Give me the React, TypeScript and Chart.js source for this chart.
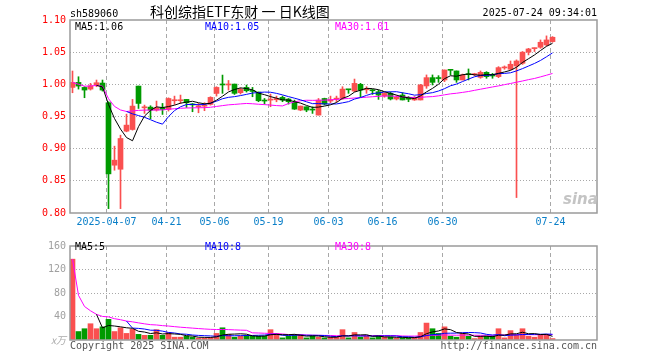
import React, { useEffect, useRef } from 'react';
import { Chart, registerables } from 'chart.js';

Chart.register(...registerables);

// ---- data ----
const opens = [
  0.9952, 1.003, 0.9952, 0.9926, 0.9994, 1.002, 0.9714, 0.8743, 0.868, 0.9272,
  0.9298, 0.9973, 0.9635, 0.9646, 0.96, 0.9636, 0.961, 0.9745, 0.9745, 0.9766,
  0.9688, 0.9651, 0.966, 0.9688, 0.9859, 0.9995, 0.999, 1.0004, 0.987, 0.9952,
  0.9895, 0.988, 0.9745, 0.9755, 0.976, 0.9797, 0.9771, 0.972, 0.96, 0.9651,
  0.9605, 0.9522, 0.978, 0.974, 0.977, 0.978, 0.9921, 0.9895, 1.0, 0.9915,
  0.9915, 0.9885, 0.9817, 0.986, 0.9772, 0.9834, 0.9772, 0.9757, 0.9757, 0.9975,
  1.0104, 1.0095, 1.0068, 1.0223, 1.0208, 1.0068, 1.0156, 1.015, 1.0109, 1.0187,
  1.0135, 1.012, 1.0255, 1.0234, 1.0285, 1.0327, 1.05, 1.0555, 1.0576, 1.0612,
  1.0664,
];
const highs = [
  1.0207, 1.0118, 0.9963, 1.0015, 1.0067, 1.0067, 0.9729, 0.9039, 0.921, 0.9537,
  0.9766, 0.9973, 0.9677, 0.9667, 0.974, 0.9703, 0.979, 0.9817, 0.9833, 0.9766,
  0.9703, 0.9703, 0.9714, 0.9807, 0.9963, 1.0144, 1.006, 1.0004, 0.9942, 0.9989,
  0.9952, 0.988, 0.978, 0.9849, 0.9817, 0.9817, 0.978, 0.9755, 0.9662, 0.9651,
  0.9651, 0.978, 0.9785, 0.9817, 0.9817, 0.9963, 0.9921, 1.0082, 1.0015, 0.9963,
  0.9921, 0.991, 0.987, 0.988, 0.9824, 0.987, 0.981, 0.981, 1.0, 1.0146,
  1.0146, 1.0135, 1.0223, 1.0228, 1.0208, 1.016, 1.0239, 1.0172, 1.0208, 1.0197,
  1.017, 1.0275, 1.0286, 1.0363, 1.038, 1.051, 1.056, 1.0565, 1.069, 1.0753,
  1.0742,
];
const lows = [
  0.9869, 0.9926, 0.9792, 0.9911, 0.9963, 0.9895, 0.8068, 0.8665, 0.8068, 0.9262,
  0.9288, 0.9625, 0.9548, 0.9465, 0.9584, 0.9532, 0.9584, 0.9688, 0.9703, 0.964,
  0.9574, 0.9558, 0.959, 0.9677, 0.9817, 0.986, 0.991, 0.9843, 0.9849, 0.988,
  0.9807, 0.973, 0.9693, 0.9652, 0.9729, 0.973, 0.9693, 0.961, 0.959, 0.9574,
  0.9548, 0.9522, 0.968, 0.9714, 0.9729, 0.9766, 0.986, 0.9885, 0.9807, 0.986,
  0.9843, 0.9766, 0.98, 0.9757, 0.9757, 0.9757, 0.973, 0.975, 0.9757, 0.9938,
  0.999, 1.0031, 1.0042, 1.0146, 1.0031, 1.0068, 1.0068, 1.0135, 1.0094, 1.0094,
  1.0094, 1.0104, 1.0234, 1.0223, 0.824, 1.031, 1.0457, 1.051, 1.056, 1.0597,
  1.0654,
];
const closes = [
  1.003, 0.9973, 0.9911, 0.9978, 1.0025, 0.9911, 0.8608, 0.8821, 0.9158, 0.9366,
  0.9662, 0.9703, 0.9646, 0.96, 0.9636, 0.961, 0.978, 0.9755, 0.9755, 0.9714,
  0.968, 0.9667, 0.967, 0.9797, 0.9952, 0.999, 1.0, 0.986, 0.9921, 0.99,
  0.989, 0.9745, 0.974, 0.977, 0.978, 0.9755, 0.973, 0.9615, 0.9662, 0.96,
  0.96, 0.9755, 0.9693, 0.976, 0.978, 0.9926, 0.9915, 1.0015, 0.991, 0.9925,
  0.99, 0.9833, 0.9859, 0.9772, 0.98, 0.9757, 0.9767, 0.9793, 0.999, 1.0104,
  1.0031, 1.009, 1.0223, 1.0218, 1.0068, 1.0146, 1.015, 1.0156, 1.0187, 1.012,
  1.013, 1.026, 1.0265, 1.0312, 1.0363, 1.05, 1.055, 1.056, 1.0654, 1.069,
  1.0732,
];
const volumes = [
  137.6, 14.4, 19.2, 27.7, 19.2, 22.4, 35.2, 14.4, 20.8, 11.2,
  18.1, 9.6, 8, 8, 17.6, 8, 12.8, 4.8, 4.8, 6.4,
  4.8, 3.2, 3.2, 4, 11.2, 20.8, 9.6, 4.8, 6.4, 8,
  6.4, 6.4, 6.4, 17.6, 11.2, 3.6, 6.4, 9.6, 9.6, 3.6,
  6.4, 4.8, 3.6, 4.8, 4.8, 17.6, 3.6, 12.8, 4.8, 6.4,
  3.6, 6.4, 4.8, 4.8, 3.2, 3.6, 3.6, 4.8, 12.8, 28.8,
  19.2, 11.2, 22.4, 6.4, 4.8, 11.2, 6.4, 2.4, 6.4, 6.4,
  6.4, 19.2, 3.6, 16, 8, 19.2, 6.4, 4.8, 8, 9.6,
  2.4,
];
const dateTickIndex = [6, 16, 24, 33, 43, 52, 62, 80];
const dateTickLabels = ['2025-04-07', '04-21', '05-06', '05-19', '06-03', '06-16', '06-30', '07-24'];
const priceTicks = [0.8, 0.85, 0.9, 0.95, 1.0, 1.05, 1.1];
const volumeTicks = [0, 40, 80, 120, 160];
const priceMaLabels = ['MA5:1.06', 'MA10:1.05', 'MA30:1.01'];
const volumeMaLabels = ['MA5:5', 'MA10:8', 'MA30:8'];
const headerCode = 'sh589060';
const headerTitle = '科创综指ETF东财 一 日K线图';
const headerTime = '2025-07-24 09:34:01';

// ---- styles ----
const UP = '#fa5050';
const DOWN = '#009a00';
const MA_COLORS = ['#000000', '#0000ff', '#ff00ff'];
const GRID = '#a8a8a8';
const FRAME = '#9a9a9a';
const MONO = '"DejaVu Sans Mono", monospace';
const X_MIN = -2.5 / 6;
const X_MAX = X_MIN + 527 / 6;

function movingAvg(src: number[], n: number, cumulative: boolean): (number | null)[] {
  return src.map((_, i) => {
    if (i < n - 1) {
      if (!cumulative) return null;
      const s = src.slice(0, i + 1);
      return s.reduce((a, b) => a + b, 0) / s.length;
    }
    const s = src.slice(i - n + 1, i + 1);
    return s.reduce((a, b) => a + b, 0) / n;
  });
}

const idx = closes.map((_, i) => i);
const candleColors = idx.map((i) => (closes[i] >= opens[i] ? UP : DOWN));

const framePlugin = {
  id: 'frame',
  afterDatasetsDraw(chart: any) {
    const { ctx, chartArea } = chart;
    ctx.save();
    ctx.strokeStyle = FRAME;
    ctx.lineWidth = 1.5;
    ctx.strokeRect(chartArea.left, chartArea.top, chartArea.right - chartArea.left, chartArea.bottom - chartArea.top);
    ctx.restore();
  },
};

function xScale(showLabels: boolean, height: number) {
  return {
    type: 'linear',
    min: X_MIN,
    max: X_MAX,
    offset: false,
    afterBuildTicks: (s: any) => {
      s.ticks = dateTickIndex.map((v) => ({ value: v - 1 / 3 }));
    },
    afterFit: (s: any) => {
      s.height = height;
    },
    grid: { color: GRID, lineWidth: 1, drawTicks: false, offset: false },
    border: { display: false, dash: [4, 3] },
    ticks: {
      display: showLabels,
      autoSkip: false,
      maxRotation: 0,
      padding: 3,
      color: '#0a7fc8',
      font: { family: MONO, size: 10 },
      callback: (_v: any, i: number) => dateTickLabels[i],
    },
  };
}

function PriceChart() {
  const ref = useRef<HTMLCanvasElement | null>(null);
  useEffect(() => {
    const ma5 = movingAvg(closes, 5, false);
    const ma10 = movingAvg(closes, 10, false);
    const ma30 = movingAvg(closes, 30, true);
    const lineDs = (vals: (number | null)[], color: string) => ({
      type: 'line',
      data: vals.map((v, i) => ({ x: i, y: v })),
      borderColor: color,
      borderWidth: 1,
      pointRadius: 0,
      tension: 0,
      order: 0,
    });
    const textPlugin = {
      id: 'priceText',
      afterDraw(chart: any) {
        const ctx = chart.ctx;
        ctx.save();
        ctx.textBaseline = 'alphabetic';
        ctx.fillStyle = '#000';
        ctx.font = `10px ${MONO}`;
        ctx.textAlign = 'left';
        ctx.fillText(headerCode, 70, 17);
        ctx.textAlign = 'right';
        ctx.fillText(headerTime, 597, 16);
        ctx.textAlign = 'left';
        ctx.font = '14px "Noto Sans CJK SC", sans-serif';
        ctx.fillText(headerTitle, 150, 17);
        ctx.font = `10px ${MONO}`;
        const xs = [75, 205, 335];
        priceMaLabels.forEach((t, k) => {
          ctx.fillStyle = MA_COLORS[k];
          ctx.fillText(t, xs[k], 30);
        });
        ctx.font = 'italic bold 15px "DejaVu Sans", sans-serif';
        ctx.fillStyle = '#c4c4c4';
        ctx.fillText('sina', 563, 204);
        ctx.restore();
      },
    };
    const chart = new Chart(ref.current as HTMLCanvasElement, {
      type: 'bar',
      data: {
        datasets: [
          lineDs(ma5, MA_COLORS[0]),
          lineDs(ma10, MA_COLORS[1]),
          lineDs(ma30, MA_COLORS[2]),
          {
            type: 'bar',
            data: idx.map((i) => ({ x: i, y: [opens[i], closes[i]] })),
            backgroundColor: candleColors,
            barThickness: 5,
            minBarLength: 1,
            grouped: false,
            order: 1,
          },
          {
            type: 'bar',
            data: idx.map((i) => ({ x: i, y: [lows[i], highs[i]] })),
            backgroundColor: candleColors,
            barThickness: 1,
            minBarLength: 1,
            grouped: false,
            order: 2,
          },
        ] as any,
      },
      options: {
        animation: false,
        responsive: false,
        events: [],
        layout: { padding: { left: 0, right: 63, top: 20, bottom: 0 } },
        plugins: { legend: { display: false }, tooltip: { enabled: false } },
        scales: {
          x: xScale(true, 23) as any,
          y: {
            type: 'linear',
            min: 0.8,
            max: 1.1,
            afterBuildTicks: (s: any) => {
              s.ticks = priceTicks.map((v) => ({ value: v }));
            },
            afterFit: (s: any) => {
              s.width = 70;
            },
            grid: {
              drawTicks: false,
              color: (c: any) => {
                const v = c.tick ? c.tick.value : 0;
                return Math.abs(v - 0.8) < 1e-6 || Math.abs(v - 1.1) < 1e-6 ? 'rgba(0,0,0,0)' : GRID;
              },
            },
            border: { display: false, dash: [1, 2] },
            ticks: {
              padding: 4,
              color: '#ff0000',
              font: { family: MONO, size: 10 },
              callback: (v: any) => Number(v).toFixed(2),
            },
          } as any,
        },
      },
      plugins: [framePlugin, textPlugin],
    });
    return () => chart.destroy();
  }, []);
  return <canvas ref={ref} width={660} height={236} style={{ position: 'absolute', left: 0, top: 0 }} />;
}

function VolumeChart() {
  const ref = useRef<HTMLCanvasElement | null>(null);
  useEffect(() => {
    const ma5 = movingAvg(volumes, 5, false);
    const ma10 = movingAvg(volumes, 10, false);
    const ma30 = movingAvg(volumes, 30, true);
    const lineDs = (vals: (number | null)[], color: string) => ({
      type: 'line',
      data: vals.map((v, i) => ({ x: i, y: v })),
      borderColor: color,
      borderWidth: 1,
      pointRadius: 0,
      tension: 0,
      order: 0,
    });
    const textPlugin = {
      id: 'volText',
      afterDraw(chart: any) {
        const ctx = chart.ctx;
        ctx.save();
        ctx.textBaseline = 'alphabetic';
        ctx.font = `10px ${MONO}`;
        ctx.textAlign = 'left';
        const xs = [75, 205, 335];
        volumeMaLabels.forEach((t, k) => {
          ctx.fillStyle = MA_COLORS[k];
          ctx.fillText(t, xs[k], 14);
        });
        ctx.fillStyle = '#555';
        ctx.fillText('Copyright 2025 SINA.COM', 70, 113);
        ctx.textAlign = 'right';
        ctx.fillText('http://finance.sina.com.cn', 597, 113);
        ctx.fillStyle = '#aaa';
        ctx.font = 'italic 10px "Noto Sans CJK SC", sans-serif';
        ctx.textBaseline = 'middle';
        ctx.fillText('x万', 66, 104);
        ctx.restore();
      },
    };
    const chart = new Chart(ref.current as HTMLCanvasElement, {
      type: 'bar',
      data: {
        datasets: [
          lineDs(ma5, MA_COLORS[0]),
          lineDs(ma10, MA_COLORS[1]),
          lineDs(ma30, MA_COLORS[2]),
          {
            type: 'bar',
            data: idx.map((i) => ({ x: i, y: volumes[i] })),
            backgroundColor: candleColors,
            barThickness: 5,
            grouped: false,
            order: 1,
          },
        ] as any,
      },
      options: {
        animation: false,
        responsive: false,
        events: [],
        layout: { padding: { left: 0, right: 63, top: 4, bottom: 0 } },
        plugins: { legend: { display: false }, tooltip: { enabled: false } },
        scales: {
          x: xScale(false, 20) as any,
          y: {
            type: 'linear',
            min: 0,
            max: 160,
            afterBuildTicks: (s: any) => {
              s.ticks = volumeTicks.map((v) => ({ value: v }));
            },
            afterFit: (s: any) => {
              s.width = 70;
            },
            grid: {
              drawTicks: false,
              color: (c: any) => {
                const v = c.tick ? c.tick.value : 0;
                return v === 0 || v === 160 ? 'rgba(0,0,0,0)' : GRID;
              },
            },
            border: { display: false, dash: [1, 2] },
            ticks: {
              padding: 4,
              color: '#a0a0a0',
              font: { family: MONO, size: 10 },
              callback: (v: any) => (Number(v) === 0 ? '' : String(v)),
            },
          } as any,
        },
      },
      plugins: [framePlugin, textPlugin],
    });
    return () => chart.destroy();
  }, []);
  return <canvas ref={ref} width={660} height={124} style={{ position: 'absolute', left: 0, top: 236 }} />;
}

export default function App() {
  return (
    <div style={{ position: 'fixed', left: 0, top: 0, width: 660, height: 360, background: '#fff', overflow: 'hidden' }}>
      <PriceChart />
      <VolumeChart />
    </div>
  );
}
